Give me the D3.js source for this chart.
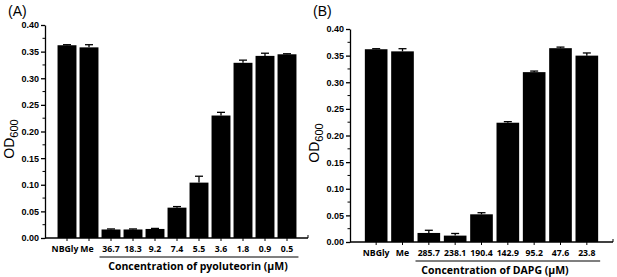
<!DOCTYPE html>
<html>
<head>
<meta charset="utf-8">
<script src="https://cdn.jsdelivr.net/npm/d3@7"></script>
<style>
  body { margin: 0; background: #fff; }
  svg { display: block; }
  .tick text { font-family: "Liberation Sans", Arial, sans-serif; font-weight: bold; font-size: 9px; }
  .cat { font-family: "Open Sans", sans-serif; font-weight: 700; font-size: 8.7px; }
  .xTitle { font-family: "Open Sans", sans-serif; font-weight: 700; font-size: 10.5px; }
  .panel { font-family: "Liberation Sans", Arial, sans-serif; font-size: 14px; }
  .yLabel { font-family: "Liberation Sans", Arial, sans-serif; font-size: 14px; }
</style>
</head>
<body>
<div id="container"></div>
<script>
/* DATA */
const catsA = ["NBGly", "Me", "36.7", "18.3", "9.2", "7.4", "5.5", "3.6", "1.8", "0.9", "0.5"]
const valsA = [0.362, 0.358, 0.016, 0.016, 0.017, 0.057, 0.104, 0.230, 0.329, 0.342, 0.345]
const errA = [0.001, 0.005, 0.001, 0.001, 0.001, 0.002, 0.012, 0.006, 0.005, 0.005, 0.001]

const catsB = ["NBGly", "Me", "285.7", "238.1", "190.4", "142.9", "95.2", "47.6", "23.8"]
const valsB = [0.362, 0.358, 0.017, 0.012, 0.052, 0.224, 0.319, 0.364, 0.350]
const errB = [0.001, 0.005, 0.005, 0.004, 0.003, 0.002, 0.002, 0.002, 0.005]

const yTicks = [0, 0.05, 0.10, 0.15, 0.20, 0.25, 0.30, 0.35, 0.40]
const yMinor = [0.025, 0.075, 0.125, 0.175, 0.225, 0.275, 0.325, 0.375]

const width = 617, height = 277

const svg = d3.select("#container").append("svg")
  .attr("width", width)
  .attr("height", height)

function drawPanel(p) {
  const g = svg.append("g")

  const yScale = d3.scaleLinear()
    .domain([0, 0.4])
    .range([p.y0, p.y1])

  const xScale = d3.scaleBand()
    .domain(p.cats)
    .range([p.bx0, p.bx1])
    .paddingInner(0.14)
    .paddingOuter(0.07)

  // bars
  g.selectAll(".bar")
    .data(p.vals)
    .join("rect")
    .attr("x", (d, i) => xScale(p.cats[i]))
    .attr("y", d => yScale(d))
    .attr("width", xScale.bandwidth())
    .attr("height", d => yScale(0) - yScale(d))
    .attr("fill", "#000")

  // error bars (upper only)
  const eb = g.selectAll(".err")
    .data(p.vals)
    .join("g")
    .attr("transform", (d, i) => `translate(${xScale(p.cats[i]) + xScale.bandwidth() / 2},0)`)
  eb.append("line")
    .attr("y1", d => yScale(d))
    .attr("y2", (d, i) => yScale(d + p.err[i]))
    .attr("stroke", "#000").attr("stroke-width", 1.3)
  eb.append("line")
    .attr("x1", -4).attr("x2", 4)
    .attr("y1", (d, i) => yScale(d + p.err[i]))
    .attr("y2", (d, i) => yScale(d + p.err[i]))
    .attr("stroke", "#000").attr("stroke-width", 1.3)

  // y axis
  const yAxis = d3.axisLeft(yScale)
    .tickValues(yTicks)
    .tickFormat(d3.format(".2f"))
    .tickSize(4)
    .tickSizeOuter(0)
  const yAxisGroup = g.append("g")
    .attr("class", "yAxis")
    .attr("transform", `translate(${p.ax}, 0)`)
    .call(yAxis)
  yAxisGroup.selectAll("line, path").attr("stroke-width", 1.3)
  yAxisGroup.selectAll(".tick text").attr("x", -6)

  g.selectAll(".minor")
    .data(yMinor)
    .join("line")
    .attr("x1", p.ax - 2.5).attr("x2", p.ax)
    .attr("y1", d => yScale(d)).attr("y2", d => yScale(d))
    .attr("stroke", "#000")

  // x axis line + ticks at bar centres
  g.append("line")
    .attr("x1", p.ax).attr("x2", p.axEnd)
    .attr("y1", yScale(0)).attr("y2", yScale(0))
    .attr("stroke", "#000").attr("stroke-width", 1.3)
  g.append("line")
    .attr("x1", p.axEnd).attr("x2", p.axEnd)
    .attr("y1", yScale(0)).attr("y2", yScale(0) - 3)
    .attr("stroke", "#000")
  g.selectAll(".xtick")
    .data(p.cats)
    .join("line")
    .attr("x1", d => xScale(d) + xScale.bandwidth() / 2)
    .attr("x2", d => xScale(d) + xScale.bandwidth() / 2)
    .attr("y1", yScale(0)).attr("y2", yScale(0) + 3)
    .attr("stroke", "#000")

  g.selectAll(".cat")
    .data(p.cats)
    .join("text")
    .attr("class", "cat")
    .attr("x", (d, i) => xScale(d) + xScale.bandwidth() / 2 + (p.shift[i] || 0))
    .attr("y", yScale(0) + 14)
    .attr("text-anchor", "middle")
    .text(d => d)

  // bracket line under concentrations
  g.append("line")
    .attr("x1", xScale(p.cats[2]) - 2)
    .attr("x2", xScale(p.cats[p.cats.length - 1]) + xScale.bandwidth() + 2)
    .attr("y1", yScale(0) + 19).attr("y2", yScale(0) + 19)
    .attr("stroke", "#000").attr("stroke-width", 1.2)

  g.append("text")
    .attr("class", "xTitle")
    .attr("x", p.titleX)
    .attr("y", yScale(0) + 32)
    .attr("text-anchor", "middle")
    .text(p.title)

  // y label OD600
  const yl = g.append("text")
    .attr("class", "yLabel")
    .attr("transform", `translate(${p.ylx}, ${p.yly}) rotate(-90)`)
    .attr("text-anchor", "middle")
  yl.append("tspan").text("OD")
  yl.append("tspan").attr("font-size", "11px").attr("dy", 4).text("600")

  g.append("text")
    .attr("class", "panel")
    .attr("x", p.px)
    .attr("y", 16)
    .text(p.label)
}

drawPanel({
  cats: catsA, vals: valsA, err: errA, shift: [-2, -2],
  y0: 238, y1: 25, ax: 45, axEnd: 308, bx0: 56, bx1: 298,
  title: "Concentration of pyoluteorin (\u03BCM)", titleX: 198,
  ylx: 14, yly: 139, px: 8, label: "(A)"
})

drawPanel({
  cats: catsB, vals: valsB, err: errB, shift: [],
  y0: 242, y1: 29, ax: 350, axEnd: 613, bx0: 363, bx1: 600,
  title: "Concentration of DAPG (\u03BCM)", titleX: 495,
  ylx: 319, yly: 143, px: 313, label: "(B)"
})
</script>
</body>
</html>
